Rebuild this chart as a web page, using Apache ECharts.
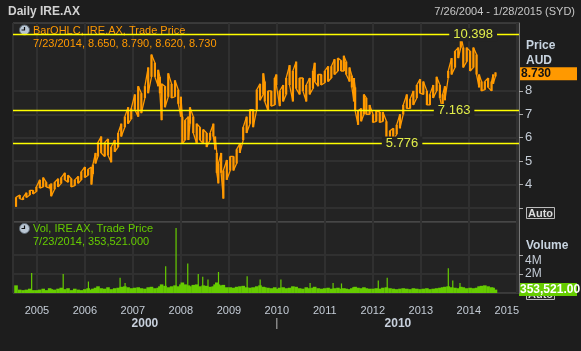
<!DOCTYPE html>
<html>
<head>
<meta charset="utf-8">
<script src="https://cdn.jsdelivr.net/npm/echarts@6/dist/echarts.min.js"></script>
<style>
html, body { margin: 0; padding: 0; background: #1d1d1d; }
#chart { width: 581px; height: 351px; }
</style>
</head>
<body>
<div id="chart"></div>
<script>
// price bars (low / high)
var priceDates = [
    '2004-07-26','2004-08-23','2004-09-18','2004-10-13','2004-11-08','2004-12-03','2004-12-28',
    '2005-01-23','2005-02-18','2005-03-13','2005-04-08','2005-04-20','2005-05-16','2005-06-11','2005-07-05','2005-08-01','2005-08-26','2005-09-20','2005-10-16','2005-11-11','2005-12-05',
    '2006-01-01','2006-01-26','2006-02-20','2006-03-03','2006-03-23','2006-04-11','2006-05-05','2006-06-01','2006-06-26','2006-07-20','2006-08-16','2006-09-11','2006-10-05','2006-11-01','2006-11-26','2006-12-20',
    '2007-01-16','2007-02-11','2007-03-07','2007-04-03','2007-04-28','2007-05-23','2007-06-18','2007-07-13','2007-07-26','2007-08-08','2007-09-03','2007-09-28','2007-10-23','2007-11-18','2007-12-13',
    '2008-01-02','2008-01-13','2008-02-03','2008-02-28','2008-03-11','2008-04-05','2008-05-01','2008-05-26','2008-06-20','2008-07-16','2008-08-11','2008-09-05','2008-09-18','2008-10-01','2008-10-13','2008-11-03','2008-11-20','2008-12-16',
    '2009-01-11','2009-02-05','2009-03-01','2009-03-26','2009-04-20','2009-05-16','2009-06-11','2009-07-05','2009-08-01','2009-08-26','2009-09-20','2009-10-01','2009-10-26','2009-11-20','2009-12-16','2009-12-28',
    '2010-01-23','2010-02-18','2010-03-13','2010-04-08','2010-05-03','2010-05-28','2010-06-23','2010-07-18','2010-08-13','2010-09-08','2010-10-03','2010-10-16','2010-11-11','2010-12-05',
    '2011-01-01','2011-01-26','2011-02-20','2011-03-16','2011-04-11','2011-05-05','2011-05-26','2011-06-13','2011-07-08','2011-07-26','2011-08-11','2011-08-20','2011-09-11','2011-10-05','2011-10-26','2011-11-13','2011-12-08',
    '2012-01-03','2012-01-28','2012-02-23','2012-03-18','2012-04-14','2012-05-11','2012-06-05','2012-07-01','2012-07-26','2012-08-20','2012-09-16','2012-10-11','2012-11-05','2012-12-01','2012-12-26',
    '2013-01-20','2013-02-16','2013-03-11','2013-04-05','2013-05-01','2013-05-26','2013-06-16','2013-07-03','2013-07-28','2013-08-23','2013-09-18','2013-10-13','2013-11-01','2013-11-20','2013-12-16',
    '2014-01-11','2014-02-05','2014-03-01','2014-03-20','2014-04-08','2014-05-03','2014-05-28','2014-06-23','2014-07-05','2014-07-23'
];
var priceLow = [
    3.05,3.4,3.35,3.45,3.55,3.6,3.7,
    3.85,3.9,3.9,3.85,3.5,3.8,3.9,4.05,4.2,4.1,3.9,3.95,4.05,4.2,
    4.3,4.4,4.0,4.45,4.9,5.2,5.35,5.2,5.25,4.95,5.4,5.6,6.05,6.45,6.6,6.8,
    7.2,6.9,7.05,7.7,7.9,8.6,8.6,8.2,7.9,6.75,7.3,7.75,7.7,7.75,7.45,
    6.9,5.75,5.9,5.9,6.6,6.2,5.75,5.9,5.75,5.6,5.9,6.05,5.5,4.5,4.05,4.5,3.4,4.2,
    4.6,4.6,4.9,5.35,5.9,6.2,6.6,6.45,7.2,7.6,7.85,7.55,7.15,7.35,7.4,8.25,
    7.35,7.55,7.85,8.25,7.55,8.1,7.85,8.0,7.55,7.85,8.1,8.4,8.2,8.25,
    8.35,8.4,8.55,8.7,8.85,8.85,8.85,8.7,8.4,8.15,7.55,7.15,6.55,6.7,7.0,7.0,7.0,
    6.65,6.7,6.65,6.7,6.0,5.776,5.9,6.15,6.4,7.0,7.25,7.25,7.4,7.7,7.9,
    7.85,7.4,7.4,7.7,8.0,7.7,7.163,7.6,8.55,8.7,9.0,9.4,9.85,9.0,9.25,
    8.85,9.0,8.7,8.15,8.0,8.05,8.15,8.0,8.3,8.62
];
var priceHigh = [
    3.45,3.55,3.45,3.65,3.75,3.75,3.9,
    4.2,4.3,4.1,4.0,4.05,4.1,4.25,4.3,4.5,4.4,4.25,4.2,4.35,4.55,
    4.75,4.65,4.75,4.85,5.35,5.8,6.05,5.8,5.95,5.6,5.9,6.2,6.6,6.9,7.3,7.25,
    7.85,8.2,7.9,8.2,9.0,9.55,9.2,8.9,8.6,8.3,8.2,8.75,8.3,8.45,8.05,
    7.75,6.9,6.75,6.9,7.3,6.9,6.6,6.45,6.35,6.2,6.2,6.6,6.05,5.35,4.9,5.35,4.6,5.05,
    5.2,5.2,5.5,5.75,6.45,6.9,7.2,7.2,8.05,8.3,8.75,8.4,8.0,8.0,8.55,8.7,
    8.0,8.25,8.55,9.1,8.85,9.25,8.55,8.55,8.25,8.55,8.85,9.2,8.7,8.7,
    8.85,9.05,9.05,9.35,9.4,9.3,9.5,9.25,9.0,8.65,8.55,8.15,7.15,7.25,7.85,7.7,7.4,
    7.0,7.15,7.1,7.1,6.7,6.3,6.4,6.55,7.0,7.4,7.85,7.65,8.0,8.25,8.5,
    8.4,8.0,7.85,8.25,8.6,8.25,7.85,8.2,8.85,9.4,9.7,9.85,10.398,9.85,9.85,
    9.7,9.85,9.55,8.7,8.4,8.4,8.55,8.4,8.7,8.79
];
// volume in millions, same dates as the price bars
var volumes = [
    0.8,0.35,0.3,0.35,0.45,0.3,0.3,
    0.35,0.45,0.3,0.5,0.4,0.35,0.45,0.55,0.4,0.5,0.3,0.45,0.35,0.3,
    0.4,0.5,0.35,0.45,0.55,0.7,0.5,0.45,0.6,0.4,0.5,0.55,0.65,0.7,0.6,0.5,
    0.55,0.6,0.5,0.45,0.6,0.65,0.5,0.55,0.7,0.9,0.75,0.6,0.7,0.8,0.7,
    0.9,1.1,0.9,0.8,0.7,0.85,0.9,0.7,0.8,0.75,0.65,0.7,0.9,1.1,0.9,0.8,0.85,0.6,
    0.6,0.55,0.65,0.7,0.75,0.6,0.55,0.6,0.7,0.8,0.65,0.6,0.55,0.5,0.6,0.45,
    0.55,0.6,0.5,0.55,0.7,0.65,0.5,0.45,0.6,0.5,0.55,0.65,0.5,0.45,
    0.5,0.55,0.45,0.5,0.55,0.45,0.5,0.45,0.4,0.5,0.6,0.65,0.55,0.5,0.6,0.5,0.45,
    0.45,0.5,0.45,0.55,0.6,0.5,0.45,0.4,0.45,0.5,0.45,0.4,0.5,0.45,0.4,
    0.45,0.5,0.4,0.45,0.5,0.55,0.6,0.65,0.7,0.6,0.55,0.5,0.65,0.6,0.5,
    0.55,0.5,0.55,0.7,0.75,0.8,0.7,0.6,0.55,0.3535
];
// single-day volume spikes (millions)
var spikeDates = [
    '2004-11-22','2005-07-20','2006-01-28','2006-09-26','2006-11-03','2007-09-08','2007-11-26',
    '2008-02-23','2008-05-13','2008-06-16','2008-07-26','2008-10-14','2009-05-20','2009-08-27',
    '2010-02-01','2010-09-11','2011-03-05','2011-05-08','2012-02-12','2012-04-20','2013-07-29',
    '2013-09-01','2013-10-26'
];
var spikeVolumes = [
    2.1,2.0,1.2,1.6,1.05,2.8,6.8,
    3.1,2.0,1.7,1.4,2.2,1.75,1.4,
    1.4,1.05,1.05,1.0,1.3,1.6,2.6,
    1.3,1.05
];
var levelValues = [10.398, 7.163, 5.776];
var levelLabelDates = ['2014-02-03', '2013-09-11', '2012-08-11'];
var lastClose = 8.730;
var lastVolume = 0.353521;

var FONT = 'Liberation Sans';
var myChart = echarts.init(document.getElementById('chart'));

function rangeRenderer(color, halfWidth) {
    return function (params, api) {
        var top = api.coord([api.value(0), api.value(2)]);
        var bottom = api.coord([api.value(0), api.value(1)]);
        return {
            type: 'rect',
            shape: { x: top[0] - halfWidth, y: top[1], width: halfWidth * 2, height: Math.max(bottom[1] - top[1], 1) },
            style: { fill: color }
        };
    };
}

// low/high of each bar joined into one jagged path
var zigzag = [];
priceDates.forEach(function (d, i) {
    if (i % 2 === 0) {
        zigzag.push([d, priceLow[i]], [d, priceHigh[i]]);
    } else {
        zigzag.push([d, priceHigh[i]], [d, priceLow[i]]);
    }
});

var xCommon = {
    type: 'time',
    min: '2004-07-03',
    max: '2015-01-18',
    minInterval: 365 * 864e5,
    maxInterval: 366 * 864e5,
    axisLine: { show: false },
    axisTick: { show: false },
    splitLine: { show: true, lineStyle: { color: '#303030', width: 2 } }
};

var option = {
    animation: false,
    backgroundColor: '#1d1d1d',
    textStyle: { fontFamily: FONT },
    grid: [
        { left: 13, right: 62, top: 23, height: 199, show: true, backgroundColor: '#232323', borderColor: '#555', borderWidth: 1 },
        { left: 13, right: 62, top: 222, height: 71, show: true, backgroundColor: '#232323', borderColor: '#555', borderWidth: 1 }
    ],
    xAxis: [
        Object.assign({ gridIndex: 0, axisLabel: { show: false } }, xCommon),
        Object.assign({
            gridIndex: 1,
            axisLabel: {
                color: '#c4ccd6', fontSize: 11, margin: 12,
                formatter: function (v) {
                    var y = new Date(v).getFullYear();
                    return y === 2015 ? '{last|' + y + '}' : String(y);
                },
                rich: { last: { color: '#c4ccd6', fontSize: 11, padding: [0, 20, 0, 0] } }
            }
        }, xCommon)
    ],
    yAxis: [
        {
            gridIndex: 0, position: 'right', min: 2.4, max: 10.9, splitNumber: 8,
            axisLine: { show: true, lineStyle: { color: '#777' } },
            axisTick: { show: true, length: 4, lineStyle: { color: '#aaa' }, customValues: [3, 4, 5, 6, 7, 8] },
            axisLabel: {
                color: '#c4ccd6', fontSize: 13, margin: 6, customValues: [4, 5, 6, 7, 8],
                formatter: function (v) { return (v >= 4 && v <= 8 && v % 1 === 0) ? String(v) : ''; }
            },
            splitLine: { show: true, lineStyle: { color: '#303030', width: 2 } }
        },
        {
            gridIndex: 1, position: 'right', min: 0, max: 7.43,
            axisLine: { show: true, lineStyle: { color: '#777' } },
            axisTick: { show: true, length: 4, lineStyle: { color: '#aaa' }, customValues: [2, 4] },
            axisLabel: {
                color: '#c4ccd6', fontSize: 12, margin: 6, customValues: [2, 4],
                formatter: function (v) { return v === 4 ? '{low|4M}' : (v === 2 ? '2M' : ''); },
                rich: { low: { color: '#c4ccd6', fontSize: 12, padding: [11, 0, 0, 0] } }
            },
            splitLine: { show: true, lineStyle: { color: '#303030', width: 2 } }
        }
    ],
    series: [
        {
            name: 'BarOHLC',
            type: 'custom',
            xAxisIndex: 0, yAxisIndex: 0,
            renderItem: rangeRenderer('#ff9900', 1.1),
            encode: { x: 0, y: [1, 2] },
            data: priceDates.map(function (d, i) { return [d, priceLow[i], priceHigh[i]]; }),
            markLine: {
                silent: true, symbol: 'none',
                label: { show: false },
                lineStyle: { color: '#ffff00', width: 1, type: 'solid' },
                data: levelValues.map(function (v) {
                    return { yAxis: v, lineStyle: { color: '#ffff00', width: 1.3, type: 'solid', opacity: 1 } };
                })
            },
            markPoint: {
                silent: true, symbol: 'rect', symbolSize: 0,
                label: {
                    show: true, position: 'inside', color: '#e2ee4a', fontSize: 13,
                    backgroundColor: '#232323', padding: [0, 4],
                    formatter: function (p) { return p.value; }
                },
                data: levelValues.map(function (v, i) {
                    return { coord: [levelLabelDates[i], v], value: v.toFixed(3) };
                })
            }
        },
        {
            name: 'BarPath',
            type: 'line',
            xAxisIndex: 0, yAxisIndex: 0,
            showSymbol: false, silent: true,
            lineStyle: { color: '#ff9900', width: 1.3 },
            data: zigzag
        },
        {
            name: 'Vol',
            type: 'custom',
            xAxisIndex: 1, yAxisIndex: 1,
            renderItem: rangeRenderer('#66cc00', 1.8),
            encode: { x: 0, y: 2 },
            data: priceDates.map(function (d, i) { return [d, 0, volumes[i]]; })
        },
        {
            name: 'VolSpikes',
            type: 'custom',
            xAxisIndex: 1, yAxisIndex: 1,
            renderItem: rangeRenderer('#66cc00', 0.6),
            encode: { x: 0, y: 2 },
            data: spikeDates.map(function (d, i) { return [d, 0, spikeVolumes[i]]; })
        }
    ]
};
myChart.setOption(option);

// texts and value boxes, placed through the axes
var closeY = myChart.convertToPixel({ yAxisIndex: 0 }, lastClose);
var volY = myChart.convertToPixel({ yAxisIndex: 1 }, lastVolume);
var xStart = myChart.convertToPixel({ xAxisIndex: 1 }, +new Date('2004-07-03'));
var x2010 = myChart.convertToPixel({ xAxisIndex: 1 }, +new Date('2010-01-01'));
var xEnd = myChart.convertToPixel({ xAxisIndex: 1 }, +new Date('2015-01-18'));

function clock(cx, cy) {
    return {
        type: 'group',
        children: [
            { type: 'circle', shape: { cx: cx, cy: cy, r: 5 }, style: { fill: '#b9c6d3', stroke: '#5d6873', lineWidth: 1 } },
            { type: 'polyline', shape: { points: [[cx, cy - 3], [cx, cy], [cx - 3, cy]] }, style: { stroke: '#111', lineWidth: 1.2, fill: null } }
        ]
    };
}
function txt(x, y, text, color, size, bold, align) {
    return {
        type: 'text', x: x, y: y,
        style: { text: text, fill: color, font: (bold ? 'bold ' : '') + size + 'px ' + FONT, align: align || 'left', verticalAlign: 'middle' }
    };
}

myChart.setOption({
    graphic: [
        txt(8, 12, 'Daily IRE.AX', '#d2d2d2', 12, true),
        txt(575, 12, '7/26/2004 - 1/28/2015 (SYD)', '#c8c8c8', 11, false, 'right'),
        clock(24.5, 30),
        txt(33, 31, 'BarOHLC, IRE.AX, Trade Price', '#ff9900', 11),
        txt(33, 44, '7/23/2014, 8.650, 8.790, 8.620, 8.730', '#ff9900', 11),
        clock(24.5, 228.5),
        txt(33, 229, 'Vol, IRE.AX, Trade Price', '#66cc00', 11),
        txt(33, 242, '7/23/2014, 353,521.000', '#66cc00', 11),
        txt(526, 46, 'Price', '#c8d4e0', 12, true),
        txt(526, 61, 'AUD', '#c8d4e0', 12, true),
        { type: 'rect', shape: { x: 520, y: closeY - 6.5, width: 57, height: 13 }, style: { fill: '#ff9900' } },
        txt(521, closeY, lastClose.toFixed(3), '#111', 12, true),
        { type: 'rect', shape: { x: 526.5, y: 207.5, width: 28, height: 11 }, style: { fill: '#232323', stroke: '#bbb', lineWidth: 1 } },
        txt(540.5, 213.5, 'Auto', '#dcdcdc', 11, true, 'center'),
        txt(526, 246, 'Volume', '#c8d4e0', 12, true),
        { type: 'rect', shape: { x: 526.5, y: 288.5, width: 28, height: 11 }, style: { fill: '#232323', stroke: '#bbb', lineWidth: 1 } },
        txt(540.5, 294.5, 'Auto', '#dcdcdc', 11, true, 'center'),
        { type: 'rect', shape: { x: 519, y: volY - 6.5, width: 58, height: 13 }, style: { fill: '#66cc00' } },
        txt(520, volY, '353,521.00', '#ffffff', 12, true),
        txt((xStart + x2010) / 2, 324, '2000', '#c8d0dc', 12, true, 'center'),
        txt((x2010 + xEnd) / 2, 324, '2010', '#c8d0dc', 12, true, 'center'),
        { type: 'line', shape: { x1: x2010, y1: 318, x2: x2010, y2: 329 }, style: { stroke: '#bbb', lineWidth: 1 } }
    ]
});
</script>
</body>
</html>
